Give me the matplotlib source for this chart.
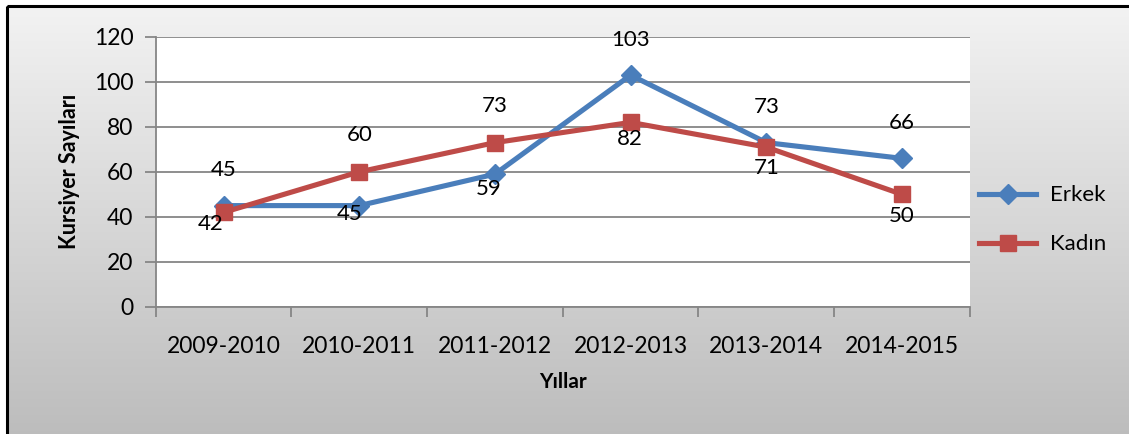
import numpy as np
import matplotlib.pyplot as plt
from matplotlib.patches import Rectangle

years = ["2009-2010", "2010-2011", "2011-2012", "2012-2013", "2013-2014", "2014-2015"]
erkek = [45, 45, 59, 103, 73, 66]
kadin = [42, 60, 73, 82, 71, 50]

# data label offsets from each point, in pixels (positive dy = above)
erkek_dx = [0, -10, -6, 0, 0, 0]
erkek_dy = [36, -8, -15, 35, 36, 35]
kadin_dx = [-13, 0, 0, -1, 0, 0]
kadin_dy = [-12, 37, 37, -17, -21, -22]

plt.rcParams['font.family'] = ['Lato', 'DejaVu Sans']

fig = plt.figure(figsize=(11.29, 4.34), dpi=100)
px = 72 / fig.dpi

# gradient background inside black frame
bg = fig.add_axes([0, 0, 1, 1], zorder=0)
bg.set_xlim(0, 1129)
bg.set_ylim(434, 0)
bg.axis('off')
grad = np.linspace(0, 1, 256).reshape(-1, 1)
top = np.array([0.95, 0.95, 0.95])
bot = np.array([0.74, 0.74, 0.74])
img = top + (bot - top) * grad[..., None]
img = np.repeat(img, 2, axis=1)
bg.imshow(img, extent=[7, 1129, 434, 6], aspect='auto', interpolation='bilinear')
bg.add_patch(Rectangle((7, 6), 1140, 440, fill=False, edgecolor='black', linewidth=2.2))

ax = fig.add_axes([0.138, 0.293, 0.721, 0.622], zorder=1)
ax.set_facecolor('white')
x = np.arange(len(years))

ax.plot(x, erkek, color='#4A7EBB', linewidth=3.7, marker='D', markersize=10,
        label='Erkek', zorder=3)
ax.plot(x, kadin, color='#BE4B48', linewidth=3.7, marker='s', markersize=11,
        label='Kadın', zorder=4)

for xi, v, dx, dy in zip(x, erkek, erkek_dx, erkek_dy):
    ax.annotate(str(v), (xi, v), xytext=(dx * px, dy * px), textcoords='offset points',
                ha='center', va='center', fontsize=16, zorder=5)
for xi, v, dx, dy in zip(x, kadin, kadin_dx, kadin_dy):
    ax.annotate(str(v), (xi, v), xytext=(dx * px, dy * px), textcoords='offset points',
                ha='center', va='center', fontsize=16, zorder=5)

ax.set_xlim(-0.5, len(years) - 0.5)
ax.set_ylim(0, 120)
ax.set_yticks(range(0, 121, 20))
ax.set_xticks(x)
ax.set_xticklabels(years)
ax.set_xticks(np.arange(-0.5, len(years), 1), minor=True)
ax.tick_params(axis='x', which='major', length=0, pad=21, labelsize=16.5)
ax.tick_params(axis='x', which='minor', length=7, width=1.3, color='#868686', direction='out')
ax.tick_params(axis='y', length=8, width=1.3, color='#868686', pad=8, labelsize=16.5)
ax.grid(True, axis='y', color='#868686', linewidth=1.3)
ax.set_axisbelow(True)
for side in ['top', 'right']:
    ax.spines[side].set_visible(False)
for side in ['left', 'bottom']:
    ax.spines[side].set_color('#868686')
    ax.spines[side].set_linewidth(1.3)

ax.set_ylabel('Kursiyer Sayıları', fontsize=15.5, fontweight='bold', labelpad=10)
ax.set_xlabel('Yıllar', fontsize=15, fontweight='bold', labelpad=11)

ax.legend(loc='center left', bbox_to_anchor=(1.0, 0.322), frameon=False, fontsize=16,
          handlelength=2.6, labelspacing=1.3, borderaxespad=0.0, handletextpad=0.6)

fig.savefig('out.png', dpi=100)
